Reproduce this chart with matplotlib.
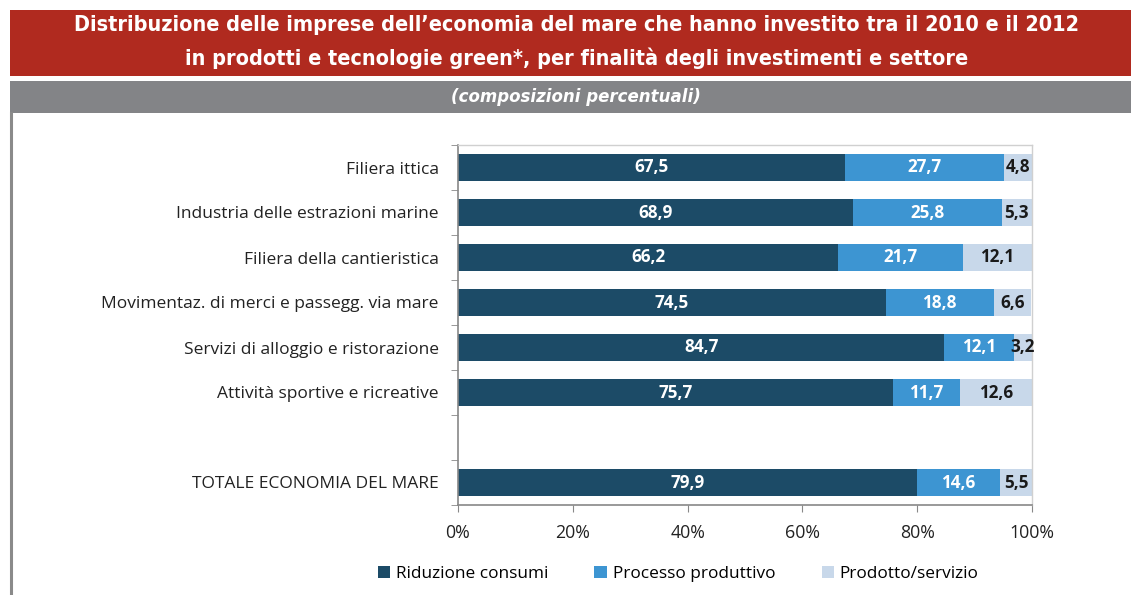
import matplotlib
matplotlib.use("Agg")
import matplotlib.pyplot as plt
from matplotlib.patches import Rectangle
from matplotlib.lines import Line2D
import numpy as np

categories = ["Filiera ittica", "Industria delle estrazioni marine", "Filiera della cantieristica",
              "Movimentaz. di merci e passegg. via mare", "Servizi di alloggio e ristorazione",
              "Attività sportive e ricreative", "", "TOTALE ECONOMIA DEL MARE"]
riduzione = [67.5, 68.9, 66.2, 74.5, 84.7, 75.7, np.nan, 79.9]
processo = [27.7, 25.8, 21.7, 18.8, 12.1, 11.7, np.nan, 14.6]
prodotto = [4.8, 5.3, 12.1, 6.6, 3.2, 12.6, np.nan, 5.5]
series_names = ["Riduzione consumi", "Processo produttivo", "Prodotto/servizio"]
xticks = [0, 20, 40, 60, 80, 100]

colors = ["#1c4b67", "#3d95d2", "#c8d8ea"]
label_colors = ["white", "white", "#1a1a1a"]

W, H = 1131, 595
fig = plt.figure(figsize=(W / 100, H / 100), dpi=100)
fig.patch.set_facecolor("white")

def fx(px): return px / W
def fy(py): return 1 - py / H

# banners
fig.patches.append(Rectangle((fx(10), fy(76)), 1 - fx(10), fy(10) - fy(76), transform=fig.transFigure,
                             facecolor="#b02a1f", edgecolor="none", zorder=0))
fig.patches.append(Rectangle((fx(10), fy(113)), 1 - fx(10), fy(81) - fy(113), transform=fig.transFigure,
                             facecolor="#838487", edgecolor="none", zorder=0))
fig.lines.append(Line2D([fx(11), fx(11)], [fy(113), 0], transform=fig.transFigure, color="#8a8a8a", lw=2.2))

title_font = dict(family=["Liberation Sans Narrow", "DejaVu Sans"], stretch="condensed")
fig.text(fx(577), fy(25), "Distribuzione delle imprese dell\u2019economia del mare che hanno investito tra il 2010 e il 2012",
         ha="center", va="center", color="white", fontsize=15.5, fontweight="bold", **title_font)
fig.text(fx(577), fy(58), "in prodotti e tecnologie green*, per finalità degli investimenti e settore",
         ha="center", va="center", color="white", fontsize=15.5, fontweight="bold", **title_font)
fig.text(fx(576), fy(97), "(composizioni percentuali)", ha="center", va="center", color="white",
         fontsize=13.3, fontweight="bold", style="italic", **title_font)

ax = fig.add_axes([fx(458), fy(505), fx(1032) - fx(458), fy(145) - fy(505)])
n = len(categories)
y = np.arange(n)
left = np.zeros(n)
for vals, col, lc in zip([riduzione, processo, prodotto], colors, label_colors):
    v = np.array(vals, dtype=float)
    ax.barh(y, np.nan_to_num(v), left=left, height=0.62, color=col, edgecolor="none")
    for yi, (l, w) in enumerate(zip(left, v)):
        if np.isnan(w):
            continue
        ax.text(l + w / 2, yi, f"{w:.1f}".replace(".", ","), ha="center", va="center",
                color=lc, fontsize=12.3, fontweight="bold", family="Open Sans")
    left = left + np.nan_to_num(v)

ax.set_xlim(0, 100)
ax.set_ylim(n - 0.5, -0.5)
ax.set_xticks(xticks)
ax.set_xticklabels([f"{t}%" for t in xticks], family="Open Sans", fontsize=12.8, color="#222222")
ax.set_yticks(y)
ax.set_yticklabels(categories, family="Open Sans", fontsize=12.5, color="#222222")
ax.set_yticks(np.arange(n + 1) - 0.5, minor=True)
ax.tick_params(axis="y", which="major", length=0, pad=14)
ax.tick_params(axis="y", which="minor", length=5, color="#888888")
ax.tick_params(axis="x", length=5, color="#888888", pad=9)
for s in ["left", "bottom"]:
    ax.spines[s].set_color("#888888")
    ax.spines[s].set_linewidth(1.2)
for s in ["top", "right"]:
    ax.spines[s].set_color("#d0d0d0")
    ax.spines[s].set_linewidth(1.0)

handles = [Rectangle((0, 0), 1, 1, facecolor=c, edgecolor="none") for c in colors]
fig.legend(handles, series_names, loc="center", bbox_to_anchor=(fx(678), fy(574)), ncol=3, frameon=False,
           prop=dict(family="Open Sans", size=12.4), handlelength=0.7, handleheight=0.7,
           columnspacing=2.7, handletextpad=0.35)

fig.savefig("out.png", dpi=100)
